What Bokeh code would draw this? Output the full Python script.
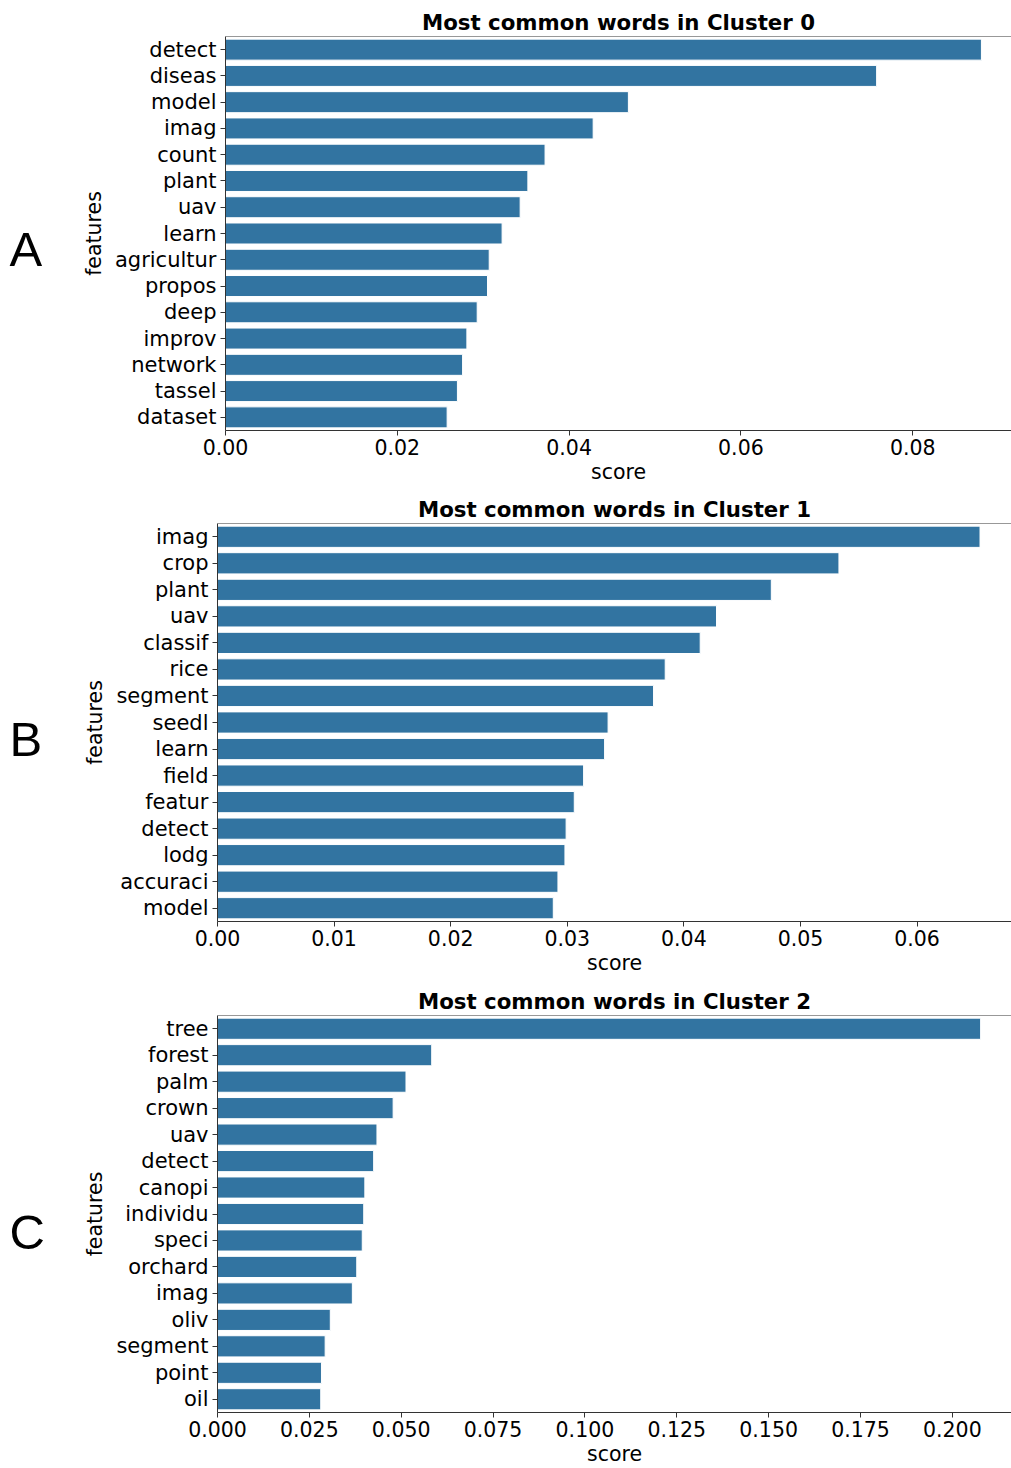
from bokeh.plotting import figure
from bokeh.models import (ColumnDataSource, FactorRange, Range1d, FixedTicker,
                          NumeralTickFormatter, Span, Label)
from bokeh.layouts import column, row
from bokeh.embed import file_html
from bokeh.resources import INLINE

# Top TF-IDF terms per cluster
words0 = ["detect", "diseas", "model", "imag", "count", "plant", "uav", "learn",
          "agricultur", "propos", "deep", "improv", "network", "tassel", "dataset"]
scores0 = [0.0880, 0.0758, 0.0469, 0.0428, 0.0372, 0.0352, 0.0343, 0.0322,
           0.0307, 0.0305, 0.0293, 0.0281, 0.0276, 0.0270, 0.0258]
ticks0 = [0.00, 0.02, 0.04, 0.06, 0.08]

words1 = ["imag", "crop", "plant", "uav", "classif", "rice", "segment", "seedl",
          "learn", "field", "featur", "detect", "lodg", "accuraci", "model"]
scores1 = [0.0654, 0.0533, 0.0475, 0.0428, 0.0414, 0.0384, 0.0374, 0.0335,
           0.0332, 0.0314, 0.0306, 0.0299, 0.0298, 0.0292, 0.0288]
ticks1 = [0.00, 0.01, 0.02, 0.03, 0.04, 0.05, 0.06]

words2 = ["tree", "forest", "palm", "crown", "uav", "detect", "canopi", "individu",
          "speci", "orchard", "imag", "oliv", "segment", "point", "oil"]
scores2 = [0.2077, 0.0583, 0.0513, 0.0478, 0.0434, 0.0425, 0.0401, 0.0398,
           0.0394, 0.0379, 0.0367, 0.0307, 0.0293, 0.0283, 0.0281]
ticks2 = [0.000, 0.025, 0.050, 0.075, 0.100, 0.125, 0.150, 0.175, 0.200]

BAR = "#3274a1"
SPINE = "#333333"
FONT = "DejaVu Sans"
TOTAL_W = 1011
LETTER_W = 60


def letter_strip(letter, height, baseline):
    # narrow blank strip carrying the panel letter
    f = figure(width=LETTER_W, height=height,
               x_range=Range1d(0, LETTER_W), y_range=Range1d(height, 0),
               x_axis_location=None, y_axis_location=None,
               output_backend="svg", toolbar_location=None,
               min_border=0, outline_line_color=None)
    f.frame_align = False
    f.xgrid.visible = False
    f.ygrid.visible = False
    f.add_layout(Label(x=9, y=baseline, text=letter,
                       text_font="Liberation Sans", text_font_size="49px",
                       text_color="black", text_align="left",
                       text_baseline="alphabetic"))
    return f


def cluster_panel(words, scores, ticks, fmt, xmax, cluster,
                  height, top, bottom, left):
    src = ColumnDataSource(dict(word=words, score=scores))
    p = figure(width=TOTAL_W - LETTER_W, height=height,
               y_range=FactorRange(factors=list(reversed(words))),
               x_range=Range1d(0, xmax),
               output_backend="svg", toolbar_location=None,
               min_border_left=left - LETTER_W, min_border_right=0,
               min_border_top=top, min_border_bottom=bottom,
               outline_line_color=None,
               title="Most common words in Cluster %d" % cluster)
    p.frame_align = False
    p.hbar(y="word", right="score", left=0, height=0.8, source=src,
           fill_color=BAR, line_color="white", line_width=1)

    p.xgrid.visible = False
    p.ygrid.visible = False

    p.title.align = "center"
    p.title.text_font = FONT
    p.title.text_font_size = "21.3px"
    p.title.text_font_style = "bold"
    p.title.text_color = "black"
    p.title.standoff = 3
    p.title.offset = 5

    for ax in (p.xaxis[0], p.yaxis[0]):
        ax.axis_line_color = SPINE
        ax.axis_line_width = 1
        ax.major_tick_line_color = SPINE
        ax.major_tick_out = 5
        ax.major_tick_in = 0
        ax.minor_tick_line_color = None
        ax.major_label_text_font = FONT
        ax.major_label_text_color = "black"
        ax.axis_label_text_font = FONT
        ax.axis_label_text_font_size = "20.5px"
        ax.axis_label_text_font_style = "normal"
        ax.axis_label_text_color = "black"

    p.xaxis.ticker = FixedTicker(ticks=ticks)
    p.xaxis.formatter = NumeralTickFormatter(format=fmt)
    p.xaxis.axis_label = "score"
    p.xaxis.major_label_text_font_size = "20.5px"
    p.xaxis.major_label_standoff = 3
    p.xaxis.axis_label_standoff = 2

    p.yaxis.axis_label = "features"
    p.yaxis.major_label_text_font_size = "21px"
    p.yaxis.major_label_standoff = 4
    p.yaxis.axis_label_standoff = 6

    # top spine of the frame
    p.add_layout(Span(location=len(words), dimension="width",
                      line_color=SPINE, line_width=1))
    return p


pa = cluster_panel(words0, scores0, ticks0, "0.00", 0.0915, 0, 490, 36, 60, 225)
pb = cluster_panel(words1, scores1, ticks1, "0.00", 0.0681, 1, 492, 33, 61, 217)
pc = cluster_panel(words2, scores2, ticks2, "0.000", 0.2161, 2, 486, 33, 55, 217)

la = letter_strip("A", 490, 248.5)
lb = letter_strip("B", 492, 248.5)
lc = letter_strip("C", 486, 249)

layout = column(row(la, pa, spacing=0), row(lb, pb, spacing=0),
                row(lc, pc, spacing=0), spacing=0)

open("out.html", "w").write(file_html(layout, INLINE, "Most common words per cluster"))
